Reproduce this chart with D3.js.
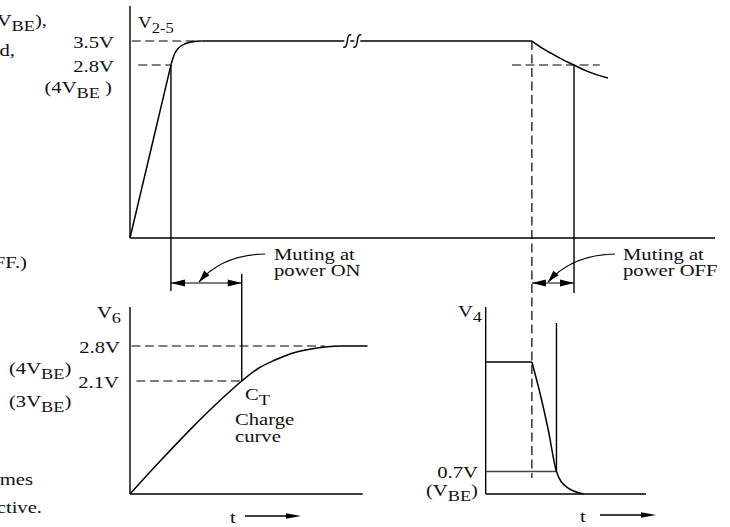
<!DOCTYPE html>
<html>
<head>
<meta charset="utf-8">
<script src="https://cdn.jsdelivr.net/npm/d3@7"></script>
<style>
  body { margin: 0; background: #fff; }
</style>
</head>
<body>
<div id="chart"></div>
<script>
// time axis shared by all three traces (arbitrary units)
const tEnd = 100;
const tBreak = 38;
const tPowerOff = 68.7;
const tMuteOnEnd = 19.1;   // V6 reaches 2.1V
const tRamp = 7.0;          // V2-5 reaches 2.8V on power up
const tOffCross = 75.9;     // V2-5 falls to 2.8V after power off
const tV4Cross = 72.9;      // V4 falls to 0.7V
const tLowLeftEnd = 39.8;
const tLowRightStart = 60.8;
const tLowRightEnd = 88.2;

// V2-5 (pin 2-5 supply)
const rampT = [0, 3.5, 7.0];
const rampV = [0, 1.4, 2.8];
const cornerT = [7.0, 7.6, 8.4, 9.4, 10.7, 12.2];
const cornerV = [2.8, 3.12, 3.31, 3.42, 3.48, 3.5];
const holdT = [12.2, 68.7];
const holdV = [3.5, 3.5];
const fallT = [68.7, 70.4, 72.1, 73.8, 75.9, 78.1, 81.7];
const fallV = [3.5, 3.30, 3.13, 2.97, 2.8, 2.70, 2.59];

// V6 (CT charge curve)
const v6T = [0, 4.8, 10.5, 16.2, 19.1, 21.9, 24.8, 27.6, 30.5, 33.3, 36.2, 40.6];
const v6V = [0, 0.57, 1.22, 1.82, 2.1, 2.35, 2.52, 2.65, 2.73, 2.78, 2.8, 2.8];

// V4
const v4HoldT = [60.8, 68.7];
const v4HoldV = [4.0, 4.0];
const v4FallT = [68.7, 70.1, 71.5, 72.9, 74.6, 77.5];
const v4FallV = [4.0, 3.05, 1.95, 0.70, 0.22, 0];

const W = 730, H = 527;
const FS = 17.5, SX = 1.18;
const FONT = "'Liberation Serif', 'Times New Roman', 'DejaVu Serif', serif";

const svg = d3.select("#chart").append("svg")
    .attr("width", W)
    .attr("height", H)
    .attr("font-family", FONT);

const x = d3.scaleLinear().domain([0, tEnd]).range([130, 715]);
const yTop = d3.scaleLinear().domain([0, 2.8, 3.5]).range([238, 65, 41]);
const yV6 = d3.scaleLinear().domain([0, 2.1, 2.8]).range([494, 381, 346]);
const yV4 = d3.scaleLinear().domain([0, 0.7, 4.0]).range([494, 471.5, 362]);

const zip = (ts, vs) => ts.map((t, i) => [t, vs[i]]);

function trace(ts, vs, ys) {
  const line = d3.line()
      .x(d => x(d[0]))
      .y(d => ys(d[1]))
      .curve(d3.curveMonotoneX);
  svg.append("path")
      .attr("d", line(zip(ts, vs)))
      .attr("fill", "none")
      .attr("stroke", "#000")
      .attr("stroke-width", 1.5);
}

function seg(x1, y1, x2, y2, opts) {
  opts = opts || {};
  svg.append("line")
      .attr("x1", x1).attr("y1", y1)
      .attr("x2", x2).attr("y2", y2)
      .attr("stroke", opts.color || "#000")
      .attr("stroke-width", opts.w || 1.4)
      .attr("stroke-dasharray", opts.dash ? "9,4.5" : null);
}

function head(tipX, tipY, fromX, fromY, len, half) {
  const a = Math.atan2(tipY - fromY, tipX - fromX);
  const bx = tipX - len * Math.cos(a), by = tipY - len * Math.sin(a);
  const px = -Math.sin(a) * half, py = Math.cos(a) * half;
  svg.append("path")
      .attr("d", `M${tipX},${tipY}L${bx + px},${by + py}L${bx - px},${by - py}Z`)
      .attr("fill", "#000");
}

// parts: [text, isSub]
function label(px, py, parts, anchor, size) {
  const fs = size || FS;
  const t = svg.append("text")
      .attr("transform", `translate(${px},${py}) scale(${SX},1)`)
      .attr("text-anchor", anchor || "start")
      .attr("font-family", FONT)
      .attr("font-size", fs)
      .attr("fill", "#111");
  let shifted = false;
  parts.forEach(p => {
    const s = t.append("tspan").text(p[0]);
    if (p[1] && !shifted) { s.attr("dy", 4.5).attr("font-size", fs - 2); shifted = true; }
    else if (p[1]) { s.attr("font-size", fs - 2); }
    else if (shifted) { s.attr("dy", -4.5); shifted = false; }
  });
}

// ---------- top chart : V2-5 ----------
seg(x(0), yTop(0), x(0), 6);
seg(x(0), yTop(0), x(tEnd), yTop(0));
seg(x(0.3), yTop(3.5), x(11), yTop(3.5), { dash: true, w: 1.2 });
seg(x(1.4), yTop(2.8), x(tRamp), yTop(2.8), { dash: true, w: 1.2 });
seg(x(65.3), yTop(2.8), x(80.3), yTop(2.8), { dash: true, w: 1.2 });
trace(rampT, rampV, yTop);
trace(cornerT, cornerV, yTop);
trace(holdT, holdV, yTop);
trace(fallT, fallV, yTop);

// break mark on the flat part
[-5, 5].forEach(o => {
  const cx = x(tBreak) + o, cy = yTop(3.5);
  svg.append("rect").attr("x", cx - 3).attr("y", cy - 2).attr("width", 6).attr("height", 4).attr("fill", "#fff");
  svg.append("path")
      .attr("d", `M${cx - 4},${cy + 6}C${cx + 2},${cy + 8} ${cx - 2},${cy - 8} ${cx + 4},${cy - 6}`)
      .attr("fill", "none").attr("stroke", "#000").attr("stroke-width", 1.4);
});

label(138, 28, [["V"], ["2-5", true]], "start", 16);
label(114, 48, [["3.5V"]], "end");
label(114, 72, [["2.8V"]], "end");
label(112, 93, [["(4V"], ["BE", true], [" )"]], "end");

// ---------- connectors and mute brackets ----------
const bracketY = 283;
seg(x(tRamp), yTop(2.8), x(tRamp), 291);
seg(x(tMuteOnEnd), 274, x(tMuteOnEnd), yV6(2.1));
seg(x(tPowerOff), yTop(3.5), x(tPowerOff), 478, { dash: true, w: 1.2 });
seg(x(tOffCross), yTop(2.8), x(tOffCross), 293);

seg(x(tRamp), bracketY, x(tMuteOnEnd), bracketY, { w: 1.2 });
head(x(tRamp), bracketY, x(tMuteOnEnd), bracketY, 14, 3.5);
head(x(tMuteOnEnd), bracketY, x(tRamp), bracketY, 14, 3.5);

seg(x(tPowerOff), bracketY, x(tOffCross), bracketY, { w: 1.2 });
head(x(tPowerOff), bracketY, x(tOffCross), bracketY, 14, 3.5);
head(x(tOffCross), bracketY, x(tPowerOff), bracketY, 14, 3.5);

function leader(sx, sy, cx, cy, ex, ey) {
  svg.append("path")
      .attr("d", `M${sx},${sy}Q${cx},${cy} ${ex},${ey}`)
      .attr("fill", "none").attr("stroke", "#000").attr("stroke-width", 1.2);
  head(ex, ey, cx, cy, 12, 3.5);
}
leader(265, 254, 222, 255, 199, 282);
leader(615, 254, 572, 255, 548, 282);

label(274, 260, [["Muting at"]]);
label(274, 276, [["power ON"]]);
label(623, 260, [["Muting at"]]);
label(623, 276, [["power OFF"]]);

// ---------- lower left : V6 ----------
seg(x(0), yV6(0), x(0), 307);
seg(x(0), yV6(0), x(tLowLeftEnd), yV6(0));
seg(x(0.25), yV6(2.8), x(33.3), yV6(2.8), { dash: true, w: 1.2 });
seg(x(1.1), yV6(2.1), x(tMuteOnEnd), yV6(2.1), { dash: true, w: 1.2 });
trace(v6T, v6V, yV6);

label(121, 318, [["V"], ["6", true]], "end");
label(120, 353, [["2.8V"]], "end");
label(119, 388, [["2.1V"]], "end");
label(9, 374, [["(4V"], ["BE", true], [")"]]);
label(9, 407, [["(3V"], ["BE", true], [")"]]);
label(245, 400, [["C"], ["T", true]]);
label(235, 425, [["Charge"]]);
label(235, 442, [["curve"]]);
label(230, 523, [["t"]]);
seg(245, 516, 290, 516, { w: 1.3 });
head(301, 516, 245, 516, 15, 2.8);

// ---------- lower right : V4 ----------
seg(x(tLowRightStart), yV4(0), x(tLowRightStart), 307);
seg(x(tLowRightStart), yV4(0), x(tLowRightEnd), yV4(0));
seg(x(tLowRightStart), yV4(0.7), x(tV4Cross), yV4(0.7), { color: "#444", w: 1.3 });
seg(x(tV4Cross), 323, x(tV4Cross), yV4(0.7));
trace(v4HoldT, v4HoldV, yV4);
trace(v4FallT, v4FallV, yV4);

label(482, 317, [["V"], ["4", true]], "end");
label(478, 478, [["0.7V"]], "end");
label(478, 496, [["(V"], ["BE", true], [")"]], "end");
label(580, 522, [["t"]]);
seg(600, 515, 645, 515, { w: 1.3 });
head(656, 515, 600, 515, 15, 2.8);

// ---------- clipped body text at the left margin ----------
label(47, 26, [["V"], ["BE", true], ["),"]], "end");
label(15, 56, [["d,"]], "end");
label(27, 268, [["FF.)"]], "end");
label(33, 485, [["mes"]], "end");
label(42, 513, [["ctive."]], "end");
</script>
</body>
</html>
